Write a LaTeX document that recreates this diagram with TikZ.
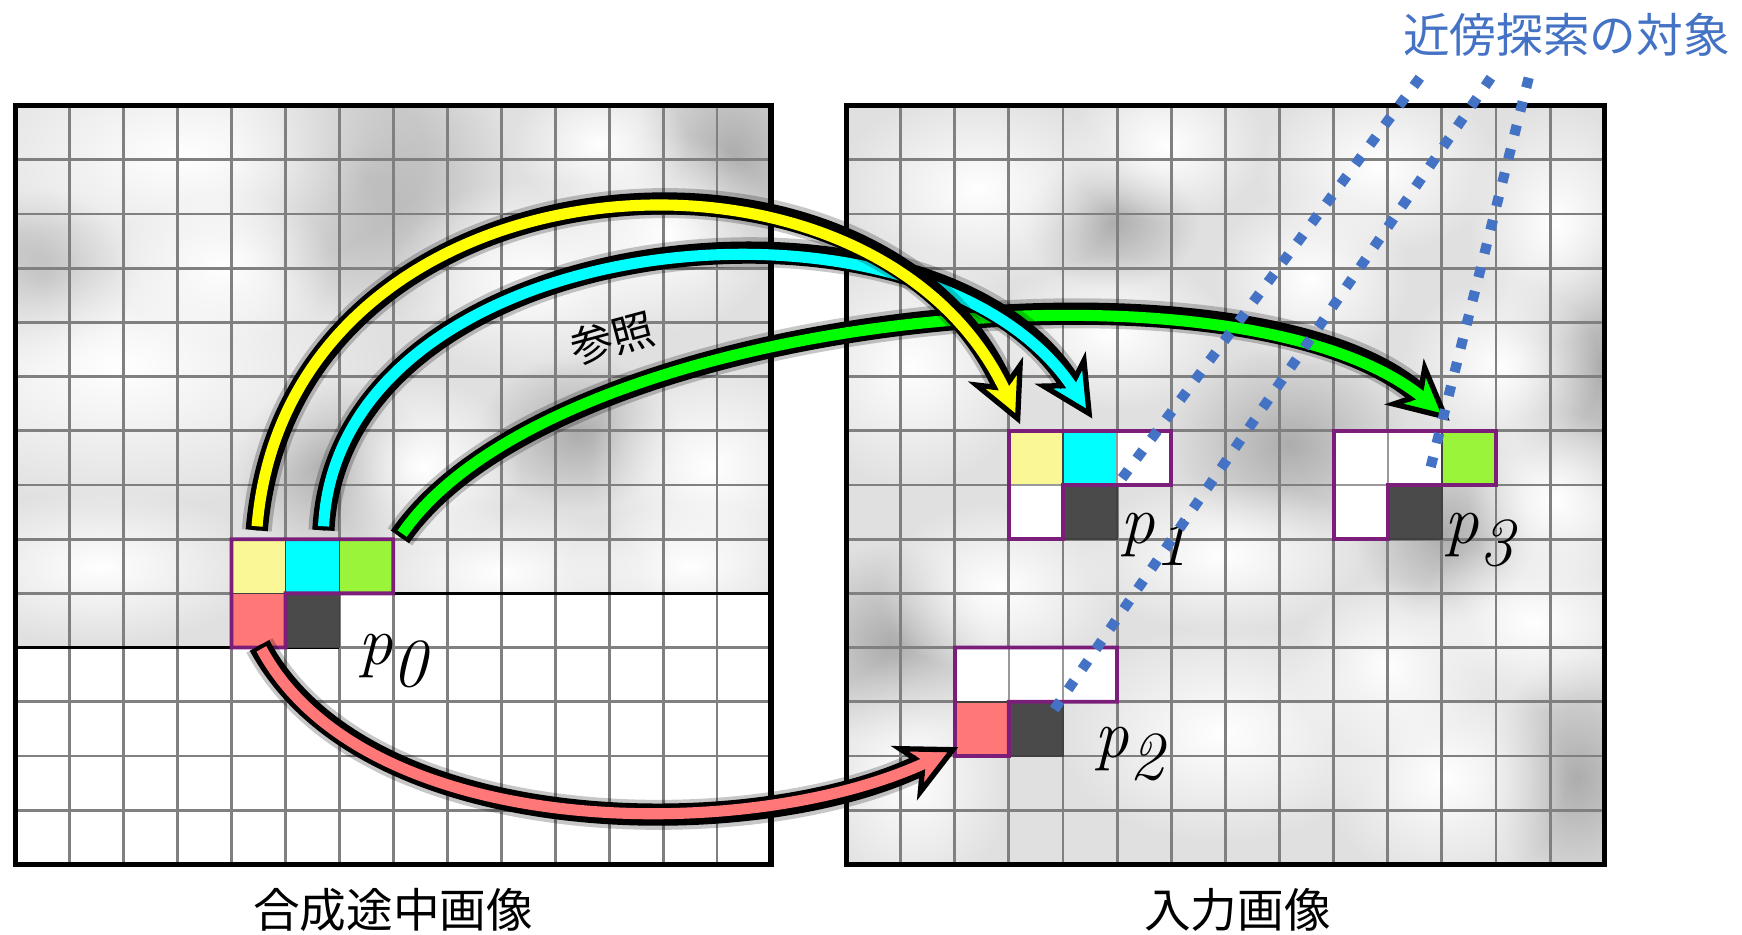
\documentclass[tikz,border=0pt]{standalone}
\usepackage{fontspec}
\newfontfamily\jpfont{Noto Sans CJK JP}
\usetikzlibrary{arrows.meta,fadings,calc}
\definecolor{pyel}{HTML}{FAF796}
\definecolor{pgrn}{HTML}{9AF53A}
\definecolor{psal}{HTML}{FF7777}
\definecolor{pdark}{HTML}{4A4A4A}
\definecolor{ppur}{HTML}{7A1E7A}
\definecolor{ablue}{HTML}{4472C4}
\definecolor{acyan}{HTML}{00FFFF}
\definecolor{ayel}{HTML}{FFFF00}
\definecolor{agrn}{HTML}{00FF00}
\definecolor{ared}{HTML}{FF7777}
\tikzfading[name=softblob, inner color=transparent!0, outer color=transparent!100]
\newcommand\fatarrow[5]{%
  \draw[black, opacity=0.22, line width=13.5pt, shorten >=20pt] #2 .. controls #3 and #4 .. #5;
  \draw[black, line width=2.4pt, -{Stealth[length=27pt,width=27pt,inset=8pt,fill=#1]}] #2 .. controls #3 and #4 .. #5;
  \draw[black, line width=10pt, shorten >=19pt] #2 .. controls #3 and #4 .. #5;
  \draw[#1, line width=5pt, shorten >=14pt, shorten <=1.8pt] #2 .. controls #3 and #4 .. #5;
}
\begin{document}
\begin{tikzpicture}[x=0.5pt,y=-0.5pt,
  gridline/.style={black!50, line width=1.3pt},
  frame/.style={black, line width=2.4pt},
  cellbox/.style={minimum width=24.3pt, minimum height=24.4pt, inner sep=0pt, outer sep=0pt, draw=black!75, line width=0.7pt},
  purl/.style={ppur, line width=1.7pt, line join=miter},
  dotline/.style={ablue, line width=4.6pt, dash pattern=on 4.6pt off 6.4pt},
  blobw/.style={fill=white, path fading=softblob},
  blobd/.style={fill=black!32, path fading=softblob},
  lbl/.style={inner sep=0pt, font=\jpfont\fontsize{21pt}{21pt}\selectfont},
  plabel/.style={inner sep=0pt, anchor=base west, font=\fontsize{31pt}{31pt}\selectfont},
]
\useasboundingbox (0,0) rectangle (1568,841);
\fill[white] (0,0) rectangle (1568,841);

% texture of the synthesised part (left)
\begin{scope}
\clip (14,95) -- (694,95) -- (694,534.1) -- (305.4,534.1) -- (305.4,582.9) -- (14,582.9) -- cycle;
\fill[black!12] (14,95) rectangle (694,583);
\foreach \cx/\cy/\rx/\ry in {330/160/130/130, 660/140/90/110, 520/390/90/70, 40/250/80/80, 300/420/90/80}
  \fill[blobd] (\cx,\cy) ellipse [x radius=\rx, y radius=\ry];
\foreach \cx/\cy/\rx/\ry in {165/140/220/110, 110/330/240/130, 480/250/130/90, 600/210/100/90, 640/420/110/100, 90/510/150/70, 450/515/130/60, 620/510/110/60, 380/420/90/80, 200/240/100/70, 540/130/80/60}
  \fill[blobw] (\cx,\cy) ellipse [x radius=\rx, y radius=\ry];
\end{scope}

% texture of the input image (right)
\begin{scope}
\clip (762,95) rectangle (1444,778);
\fill[black!12] (762,95) rectangle (1444,778);
\foreach \cx/\cy/\rx/\ry in {1440/330/90/130, 800/580/90/90, 1160/400/110/90, 1420/700/80/110, 1000/200/80/60, 1300/480/80/80}
  \fill[blobd] (\cx,\cy) ellipse [x radius=\rx, y radius=\ry];
\foreach \cx/\cy/\rx/\ry in {880/170/130/90, 1050/130/90/70, 1240/150/110/80, 1400/200/80/110, 820/330/110/110, 1000/300/110/70, 1180/250/90/80, 1350/330/90/80, 900/530/110/80, 1100/500/130/70, 1380/560/110/80, 820/700/90/110, 1100/660/150/100, 1300/700/110/100, 1400/450/80/80, 1250/600/90/80}
  \fill[blobw] (\cx,\cy) ellipse [x radius=\rx, y radius=\ry];
\end{scope}

% grids
\foreach \i in {1,...,13} {
  \draw[gridline] ({14+\i*48.571},95) -- ({14+\i*48.571},778);
  \draw[gridline] (14,{95+\i*48.786}) -- (694,{95+\i*48.786});
  \draw[gridline] ({762+\i*48.714},95) -- ({762+\i*48.714},778);
  \draw[gridline] (762,{95+\i*48.786}) -- (1444,{95+\i*48.786});
}
\draw[frame] (14,95) rectangle (694,778);
\draw[frame] (762,95) rectangle (1444,778);
\draw[line width=1.5pt] (354,534.1) -- (694,534.1);
\draw[line width=1.5pt] (14,582.9) -- (305.4,582.9);

% patch in the synthesised image
\node[cellbox, fill=pyel] (Ly) at (232.6,509.7) {};
\node[cellbox, fill=acyan] (Lc) at (281.1,509.7) {};
\node[cellbox, fill=pgrn] (Lg) at (329.7,509.7) {};
\node[cellbox, fill=psal] (Lr) at (232.6,558.5) {};
\node[cellbox, fill=pdark] (Ld) at (281.1,558.5) {};
\draw[purl] (Ly.north west) -- (Lg.north east) -- (Lg.south east) -- (Lr.north east) -- (Lr.south east) -- (Lr.south west) -- cycle;

% p1
\node[cellbox, fill=pyel] (Y1) at (932.5,412.1) {};
\node[cellbox, fill=acyan] (C1) at (981.2,412.1) {};
\node[cellbox, fill=white, draw=black!40] (W1) at (1029.9,412.1) {};
\node[cellbox, fill=white, draw=black!40] (E1) at (932.5,460.9) {};
\node[cellbox, fill=pdark] (D1) at (981.2,460.9) {};
\draw[purl] (Y1.north west) -- (W1.north east) -- (W1.south east) -- (E1.north east) -- (E1.south east) -- (E1.south west) -- cycle;

% p3
\node[cellbox, fill=white, draw=black!40] (A3) at (1224.7,412.1) {};
\node[cellbox, fill=white, draw=black!40] (B3) at (1273.4,412.1) {};
\node[cellbox, fill=pgrn] (G3) at (1322.2,412.1) {};
\node[cellbox, fill=white, draw=black!40] (E3) at (1224.7,460.9) {};
\node[cellbox, fill=pdark] (D3) at (1273.4,460.9) {};
\draw[purl] (A3.north west) -- (G3.north east) -- (G3.south east) -- (E3.north east) -- (E3.south east) -- (E3.south west) -- cycle;

% p2
\node[cellbox, fill=white, draw=black!40] (T2a) at (883.8,607.3) {};
\node[cellbox, fill=white, draw=black!40] (T2b) at (932.5,607.3) {};
\node[cellbox, fill=white, draw=black!40] (T2c) at (981.2,607.3) {};
\node[cellbox, fill=psal] (R2) at (883.8,656.1) {};
\node[cellbox, fill=pdark] (D2) at (932.5,656.1) {};
\draw[purl] (T2a.north west) -- (T2c.north east) -- (T2c.south east) -- (R2.north east) -- (R2.south east) -- (R2.south west) -- cycle;

% labels
\node[plabel] (p0) at (322,598) {\textit{p}\raisebox{-10pt}{\textit{0}}};
\node[plabel] (p1) at (1008,489) {\textit{p}\raisebox{-10pt}{\textit{1}}};
\node[plabel] (p3) at (1300,489) {\textit{p}\raisebox{-10pt}{\textit{3}}};
\node[plabel] (p2) at (985,682) {\textit{p}\raisebox{-10pt}{\textit{2}}};

% arrows
\fatarrow{agrn}{($(Lg.north east)+(6,-2)$)}{(500,280)}{(1120,220)}{($(G3.north west)+(7,-9)$)}
\fatarrow{acyan}{($(Lc.north)+(10,-8)$)}{(305,200)}{(840,150)}{($(C1.north)+(2,-11)$)}
\fatarrow{ayel}{($(Ly.north)+(-1.5,-8)$)}{(260,130)}{(790,95)}{($(Y1.north west)+(10,-6)$)}
\fatarrow{ared}{($(Lr.south)+(1,-2)$)}{(330,760)}{(680,760)}{($(R2.south west)+(3,-8)$)}

% dotted lines
\coordinate (s1) at (1278,70);
\coordinate (s2) at (1342,70);
\coordinate (s3) at (1376,70);
\draw[dotline] (s1) -- (D1.north east);
\draw[dotline] (s2) -- ($(D2.north east)+(-10,10)$);
\draw[dotline] (s3) -- ($(D3.north east)+(-12,-8)$);

% texts
\node[lbl, text=ablue] (tq) at (1410,31) {近傍探索の対象};
\node[lbl] (tl) at (354,819) {合成途中画像};
\node[lbl] (tr) at (1114,819) {入力画像};
\node[inner sep=0pt, rotate=15, font=\jpfont\fontsize{19pt}{19pt}\selectfont] (ref) at (551,304) {参照};
\end{tikzpicture}
\end{document}
